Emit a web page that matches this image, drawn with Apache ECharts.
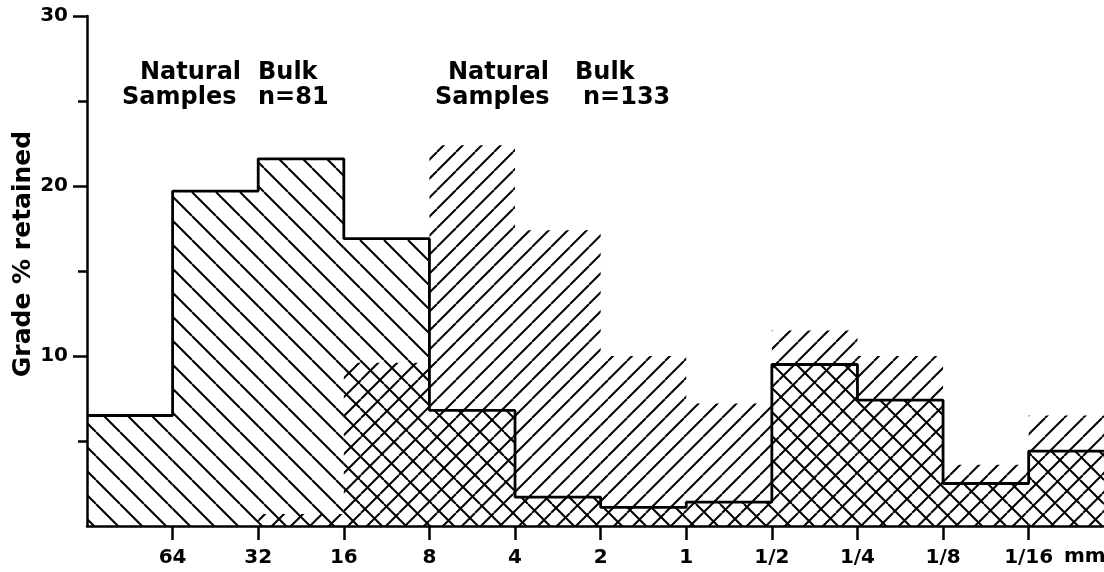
<!DOCTYPE html>
<html>
<head>
<meta charset="utf-8">
<script src="https://cdn.jsdelivr.net/npm/echarts@6/dist/echarts.min.js"></script>
<style>
  html, body { margin: 0; padding: 0; background: #fff; }
  #chart { width: 1104px; height: 572px; }
</style>
</head>
<body>
<div id="chart"></div>
<script>
// grain size class boundaries (mm), coarse -> fine
var sizeLabels = ['64', '32', '16', '8', '4', '2', '1', '1/2', '1/4', '1/8', '1/16'];
// grade % retained in each class (12 classes: >64 ... <1/16)
var bulk81 = [6.5, 19.7, 21.6, 16.9, 6.8, 1.7, 1.1, 1.4, 9.5, 7.4, 2.5, 4.4];
var bulk133 = [0, 0, 0.7, 9.6, 22.4, 17.4, 10.0, 7.2, 11.5, 10.0, 3.6, 6.5];
var yMajor = [10, 20, 30];
var yMinor = [5, 15, 25];

var font = 'DejaVu Sans';

// diagonal line texture, dir 1 = "/" , dir -1 = "\"
function hatch(size, dir) {
  var c = document.createElement('canvas');
  c.width = size;
  c.height = size;
  var ctx = c.getContext('2d');
  ctx.strokeStyle = '#000';
  ctx.lineWidth = 2;
  ctx.beginPath();
  for (var k = -1; k <= 1; k++) {
    if (dir > 0) {
      ctx.moveTo(k * size, size);
      ctx.lineTo(k * size + size, 0);
    } else {
      ctx.moveTo(k * size, 0);
      ctx.lineTo(k * size + size, size);
    }
  }
  ctx.stroke();
  return { image: c, repeat: 'repeat' };
}

var backHatch = hatch(24, -1);
var fwdHatch = hatch(19, 1);

function toBins(arr) {
  return arr.map(function (v, i) { return [i, v]; });
}

function stepLine(arr) {
  var pts = arr.map(function (v, i) { return [i, v]; });
  pts.push([arr.length, arr[arr.length - 1]]);
  return pts;
}

function binRender(pattern) {
  return function (params, api) {
    var i = api.value(0);
    var v = api.value(1);
    var p0 = api.coord([i, 0]);
    var p1 = api.coord([i + 1, v]);
    var cs = params.coordSys;
    var rect = echarts.graphic.clipRectByRect(
      { x: p0[0], y: p1[1], width: p1[0] - p0[0], height: p0[1] - p1[1] },
      { x: cs.x, y: cs.y, width: cs.width, height: cs.height }
    );
    if (!rect || rect.height <= 0) return;
    return { type: 'rect', shape: rect, style: { fill: pattern } };
  };
}

function word(text, x, y) {
  return {
    type: 'text', x: x, y: y,
    style: { text: text, font: 'bold 24px "' + font + '"', fill: '#000', verticalAlign: 'top' }
  };
}

var myChart = echarts.init(document.getElementById('chart'));
var option = {
  animation: false,
  grid: { left: 87, right: 0, top: 16, bottom: 46 },
  xAxis: {
    type: 'value',
    min: 0,
    max: 11.88,
    interval: 1,
    splitLine: { show: false },
    axisLine: { lineStyle: { color: '#000', width: 2.5 } },
    axisTick: {
      customValues: [1, 2, 3, 4, 5, 6, 7, 8, 9, 10, 11],
      length: 14,
      lineStyle: { color: '#000', width: 2.5 }
    },
    axisLabel: {
      customValues: [1, 2, 3, 4, 5, 6, 7, 8, 9, 10, 11],
      margin: 22,
      color: '#000',
      fontFamily: font,
      fontWeight: 'bold',
      fontSize: 20,
      formatter: function (v) { return sizeLabels[Math.round(v) - 1] || ''; }
    }
  },
  yAxis: [
    {
      type: 'value',
      min: 0,
      max: 30,
      interval: 10,
      splitLine: { show: false },
      axisLine: { show: true, lineStyle: { color: '#000', width: 2.5 } },
      axisTick: { customValues: yMajor, length: 14, lineStyle: { color: '#000', width: 2.5 } },
      axisLabel: {
        customValues: yMajor,
        margin: 19,
        color: '#000',
        fontFamily: font,
        fontWeight: 'bold',
        fontSize: 20
      }
    },
    {
      type: 'value',
      position: 'left',
      min: 0,
      max: 30,
      interval: 5,
      splitLine: { show: false },
      axisLine: { show: false },
      axisTick: { customValues: yMinor, length: 9, lineStyle: { color: '#000', width: 2.5 } },
      axisLabel: { show: false }
    }
  ],
  series: [
    {
      name: 'n=133',
      type: 'custom',
      renderItem: binRender(fwdHatch),
      data: toBins(bulk133),
      z: 1
    },
    {
      name: 'n=81',
      type: 'custom',
      renderItem: binRender(backHatch),
      data: toBins(bulk81),
      z: 1
    },
    {
      name: 'n=81 outline',
      type: 'line',
      step: 'end',
      symbol: 'none',
      data: stepLine(bulk81),
      lineStyle: { color: '#000', width: 2.8 },
      z: 3
    }
  ],
  graphic: [
    {
      type: 'text',
      x: 23,
      y: 254,
      rotation: Math.PI / 2,
      style: {
        text: 'Grade % retained',
        font: 'bold 25px "' + font + '"',
        fill: '#000',
        align: 'center',
        verticalAlign: 'middle'
      }
    },
    word('Natural', 140, 61),
    word('Bulk', 258, 61),
    word('Samples', 122, 86),
    word('n=81', 258, 86),
    word('Natural', 448, 61),
    word('Bulk', 575, 61),
    word('Samples', 435, 86),
    word('n=133', 583, 86),
    {
      type: 'text',
      x: 1064,
      y: 557,
      style: { text: 'mm', font: 'bold 20px "' + font + '"', fill: '#000', verticalAlign: 'middle' }
    }
  ]
};
myChart.setOption(option, true);
window.addEventListener('resize', function () {
  myChart.resize();
});
</script>
</body>
</html>
